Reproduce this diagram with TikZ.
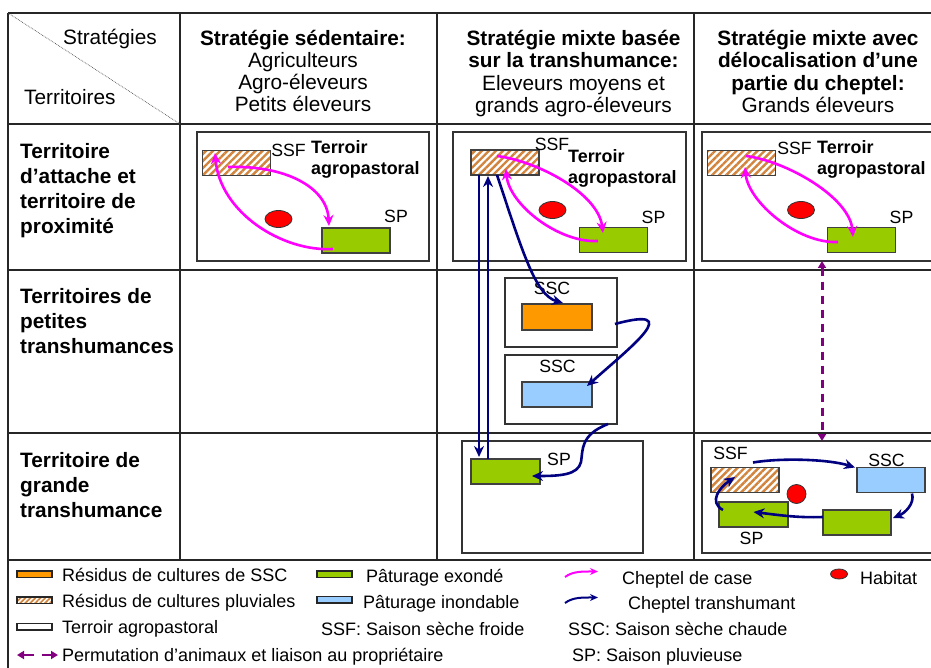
\documentclass[tikz,border=0pt]{standalone}
\usepackage{fontspec}
\setmainfont{Liberation Sans}
\usetikzlibrary{arrows.meta, shapes.geometric, patterns.meta}

\definecolor{cResidu}{HTML}{FF9900}
\definecolor{cExonde}{HTML}{99CC00}
\definecolor{cInonde}{HTML}{99CCFF}
\definecolor{cHachure}{HTML}{D2843C}
\definecolor{cCase}{HTML}{FF00FF}
\definecolor{cTransh}{HTML}{000080}
\definecolor{cPermut}{HTML}{800080}

\tikzset{
  grille/.style={line width=2pt, draw=black!85},
  terroir/.style={draw=black!80, line width=1.5pt, fill=white, inner sep=0pt, outer sep=0pt},
  parcelle/.style={draw=black!75, line width=1.3pt, inner sep=0pt, outer sep=0pt, minimum width=68pt, minimum height=25pt},
  residu/.style={parcelle, fill=cResidu},
  pluvial/.style={parcelle, pattern={Lines[angle=45,distance=5pt,line width=2.4pt]}, pattern color=cHachure},
  exonde/.style={parcelle, fill=cExonde},
  inonde/.style={parcelle, fill=cInonde},
  habitat/.style={ellipse, draw=black!80, line width=0.8pt, fill=red, inner sep=0pt, minimum width=27pt, minimum height=17pt},
  cheptelcase/.style={draw=cCase, line width=2.6pt, -{Stealth[length=11pt,width=10pt]}},
  transh/.style={draw=cTransh, line width=2.6pt, -{Stealth[length=11pt,width=10pt]}},
  permut/.style={draw=cPermut, line width=3pt, dash pattern=on 8pt off 6pt, {Triangle[length=7pt,width=8pt]}-{Triangle[length=7pt,width=8pt]}},
  entete/.style={font=\fontsize{20.8}{22.3}\selectfont, inner sep=0pt},
  ligne/.style={font=\fontsize{20.8}{25}\selectfont\bfseries, align=left, inner sep=0pt, anchor=west},
  etiq/.style={font=\fontsize{17.7}{21}\selectfont, inner sep=0pt},
  terroirtxt/.style={font=\fontsize{17.9}{21}\selectfont\bfseries, align=left, inner sep=0pt, anchor=west},
  legende/.style={font=\fontsize{18}{21}\selectfont, inner sep=0pt, anchor=base west},
  echant/.style={draw=black!85, line width=1.5pt, inner sep=0pt, outer sep=0pt, minimum width=35pt, minimum height=6.5pt}
}

\begin{document}
\begin{tikzpicture}[x=1pt, y=-1pt]
  \useasboundingbox (0,0) rectangle (931,668);

  \draw[grille] (8,13) -- (940,13);
  \draw[grille] (8,124) -- (940,124);
  \draw[grille] (8,270) -- (940,270);
  \draw[grille] (8,433) -- (940,433);
  \draw[grille] (8,560) -- (940,560);
  \draw[grille] (8,13) -- (8,680);
  \draw[grille] (180,13) -- (180,560);
  \draw[grille] (437,13) -- (437,560);
  \draw[grille] (694,13) -- (694,560);
  \draw[densely dotted, line width=0.7pt, black!70] (8,13) -- (180,124);

  \node[entete, anchor=base east] (strat) at (157,45) {Stratégies};
  \node[entete, anchor=base west] (terr) at (24,105) {Territoires};
  \node[entete, align=center] (col1) at (303,71) {\textbf{Stratégie sédentaire:}\\Agriculteurs\\Agro-éleveurs\\Petits éleveurs};
  \node[entete, align=center] (col2) at (573.5,73.6) {\textbf{Stratégie mixte basée}\\\textbf{sur la transhumance:}\\Eleveurs moyens et\\grands agro-éleveurs};
  \node[entete, align=center] (col3) at (818,71.5) {\textbf{Stratégie mixte avec}\\\textbf{délocalisation d’une}\\\textbf{partie du cheptel:}\\Grands éleveurs};

  \node[ligne] (row1) at (20,190.5) {Territoire\\d’attache et\\territoire de\\proximité};
  \node[ligne] (row2) at (20,320.9) {Territoires de\\petites\\transhumances};
  \node[ligne] (row3) at (20,484.9) {Territoire de\\grande\\transhumance};

  \node[terroir, minimum width=232pt, minimum height=129pt] (terA) at (313,196.5) {};
  \node[pluvial] (ssfA) at (236.5,163) {};
  \node[exonde] (spA) at (356,240.5) {};
  \node[habitat] (habA) at (278.5,219) {};
  \node[etiq] (lssfA) at (288.5,150) {SSF};
  \node[terroirtxt] (ltA) at (311,159.5) {Terroir\\agropastoral};
  \node[etiq] (lspA) at (396,216) {SP};
  \draw[cheptelcase] ([shift={(-8.5,4)}]ssfA.center) .. controls +(55,-2) and +(-2,-40) .. ([shift={(-27,-14.5)}]spA.center);
  \draw[cheptelcase] ([shift={(-23,8.5)}]spA.center) .. controls +(-50,3) and +(5,60) .. ([shift={(-21.5,-10)}]ssfA.center);

  \node[terroir, minimum width=233pt, minimum height=129pt] (terB) at (569.5,196.5) {};
  \node[pluvial] (ssfB) at (505,162.5) {};
  \node[exonde] (spB) at (613.5,240) {};
  \node[habitat] (habB) at (552.5,210) {};
  \node[etiq] (lssfB) at (552,144) {SSF};
  \node[terroirtxt] (ltB) at (568,168.5) {Terroir\\agropastoral};
  \node[etiq] (lspB) at (653.5,217) {SP};
  \draw[cheptelcase] ([shift={(-8,-6.5)}]ssfB.center) .. controls +(40,5) and +(-5,-40) .. ([shift={(-10.5,-7)}]spB.center);
  \draw[cheptelcase] ([shift={(-15.5,1)}]spB.center) .. controls +(-40,2) and +(3,35) .. ([shift={(1,6.5)}]ssfB.center);

  \node[terroir, minimum width=240pt, minimum height=129pt] (terC) at (822,196.5) {};
  \node[pluvial] (ssfC) at (741.5,163) {};
  \node[exonde] (spC) at (861.5,240) {};
  \node[habitat] (habC) at (801,210) {};
  \node[etiq] (lssfC) at (794.5,148) {SSF};
  \node[terroirtxt] (ltC) at (817,159) {Terroir\\agropastoral};
  \node[etiq] (lspC) at (901.5,217) {SP};
  \draw[cheptelcase] ([shift={(4.5,-7)}]ssfC.center) .. controls +(40,5) and +(-3,-40) .. ([shift={(-8.5,-3)}]spC.center);
  \draw[cheptelcase] ([shift={(-23.5,2)}]spC.center) .. controls +(-40,2) and +(3,35) .. ([shift={(3.5,4)}]ssfC.center);

  \node[terroir, minimum width=112pt, minimum height=69pt] (terO) at (561,312.5) {};
  \node[residu, minimum width=70pt, minimum height=26pt] (sscO) at (557,317) {};
  \node[etiq] (lsscO) at (552,288) {SSC};
  \node[terroir, minimum width=112pt, minimum height=69pt] (terP) at (561,389.5) {};
  \node[inonde, minimum width=70pt] (sscP) at (557,394.5) {};
  \node[etiq] (lsscP) at (557.5,366) {SSC};

  \node[terroir, minimum width=181pt, minimum height=112pt] (terD) at (552.5,497) {};
  \node[exonde, minimum width=69pt] (spD) at (505.5,471.5) {};
  \node[etiq] (lspD) at (559,459) {SP};

  \draw[transh] ([shift={(-26,0)}]ssfB.south) -- ([shift={(-26.5,-2)}]spD.north);
  \draw[transh] ([shift={(-17.5,0)}]spD.north) -- ([shift={(-17,1)}]ssfB.south);
  \draw[transh] ([shift={(-8,0)}]ssfB.south) .. controls +(25,75) and +(-28,-8) .. ([shift={(6,-14)}]sscO.center);
  \draw[transh] ([shift={(-2,11.5)}]terO.east) .. controls +(70,-19) and +(45,-40) .. ([shift={(30,-8.5)}]sscP.center);
  \draw[transh] ([shift={(47,0)}]terP.south) .. controls +(-28,11) and +(2,-12) .. ++(-27,38) .. controls +(-3,13) and +(28,0) .. ([shift={(26.5,4.5)}]spD.center);

  \node[terroir, minimum width=240pt, minimum height=112pt] (terE) at (822,497) {};
  \node[pluvial] (ssfE) at (745,480) {};
  \node[inonde] (sscE) at (891,480) {};
  \node[exonde, minimum width=69pt] (spE1) at (753.5,514.5) {};
  \node[exonde] (spE2) at (857,522.5) {};
  \node[habitat, minimum width=19pt, minimum height=19pt] (habE) at (796.5,494) {};
  \node[etiq] (lssfE) at (730.5,453) {SSF};
  \node[etiq] (lsscE) at (886.5,460) {SSC};
  \node[etiq] (lspE) at (751.5,538) {SP};
  \draw[transh] ([shift={(8,-5)}]ssfE.north) .. controls +(30,-5) and +(-25,-8) .. ([shift={(-2,0)}]sscE.north west);
  \draw[transh] ([shift={(-13,1)}]sscE.south east) .. controls +(3,10) and +(12,-5) .. ([shift={(2,-4.5)}]spE2.east);
  \draw[transh] ([shift={(0,-5.5)}]spE2.west) .. controls +(-25,1) and +(25,3) .. ([shift={(0,-2.5)}]spE1.center);
  \draw[transh] ([shift={(-30.5,-4.5)}]spE1.center) .. controls +(-15,-8) and +(-15,10) .. ([shift={(-10,-3)}]ssfE.center);

  \draw[permut] (terC.south) -- (terE.north);

  \node[echant, fill=cResidu] (lgA) at (34.5,574) {};
  \node[echant, pattern={Lines[angle=45,distance=3.5pt,line width=1.7pt]}, pattern color=cHachure] (lgB) at (34.5,600) {};
  \node[echant] (lgC) at (34.5,626.5) {};
  \node[echant, fill=cExonde] (lgD) at (334.5,574) {};
  \node[echant, fill=cInonde] (lgE) at (334.5,599.5) {};
  \node[habitat, minimum width=17pt, minimum height=10pt] (lgF) at (839,574) {};
  \coordinate (lgG1) at (565,577);
  \coordinate (lgG2) at (598,571.5);
  \coordinate (lgH1) at (565,603);
  \coordinate (lgH2) at (598,597.5);
  \coordinate (lgI1) at (17,655);
  \coordinate (lgI2) at (58,655);
  \draw[cheptelcase, line width=2pt, -{Stealth[length=8pt,width=7pt]}] (lgG1) .. controls +(8,-6) and +(-15,0) .. (lgG2);
  \draw[transh, line width=2pt, -{Stealth[length=8pt,width=7pt]}] (lgH1) .. controls +(8,-6) and +(-15,0) .. (lgH2);
  \draw[permut, line width=2.5pt, dash pattern=on 10pt off 8pt, {Triangle[length=7pt,width=8pt]}-{Triangle[length=7pt,width=8pt]}] (lgI1) -- (lgI2);

  \node[legende] (txA) at (62,581.3) {Résidus de cultures de SSC};
  \node[legende] (txB) at (62,607) {Résidus de cultures pluviales};
  \node[legende] (txC) at (62,633) {Terroir agropastoral};
  \node[legende] (txI) at (62,661) {Permutation d’animaux et liaison au propriétaire};
  \node[legende] (txD) at (366,582) {Pâturage exondé};
  \node[legende] (txE) at (363,608.7) {Pâturage inondable};
  \node[legende] (txS1) at (321,635.3) {SSF: Saison sèche froide};
  \node[legende] (txG) at (622,584.7) {Cheptel de case};
  \node[legende] (txH) at (628,609.7) {Cheptel transhumant};
  \node[legende] (txS2) at (568,635.3) {SSC: Saison sèche chaude};
  \node[legende] (txS3) at (572,661.3) {SP: Saison pluvieuse};
  \node[legende] (txF) at (860,584.7) {Habitat};
\end{tikzpicture}
\end{document}
